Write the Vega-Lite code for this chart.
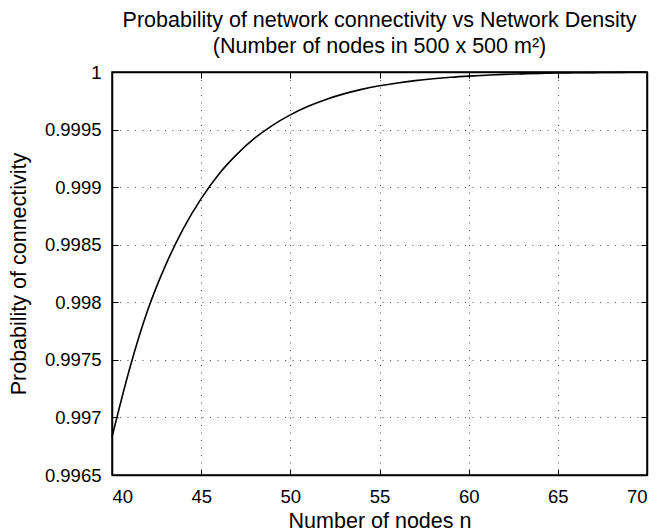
{
  "$schema": "https://vega.github.io/schema/vega-lite/v6.json",
  "autosize": "none",
  "width": 535,
  "height": 403,
  "padding": {"left": 112, "top": 72, "right": 25, "bottom": 57},
  "background": "white",
  "title": {
    "text": ["Probability of network connectivity vs Network Density", "(Number of nodes in 500 x 500 m²)"],
    "font": "Liberation Sans",
    "fontSize": 21.5,
    "fontWeight": "normal",
    "color": "black",
    "anchor": "middle",
    "frame": "group",
    "lineHeight": 26,
    "offset": 6
  },
  "config": {
    "view": {"stroke": "black", "strokeWidth": 1.5},
    "axis": {
      "labelFont": "Liberation Sans",
      "labelFontSize": 18.5,
      "labelColor": "black",
      "titleFont": "Liberation Sans",
      "titleFontSize": 21.5,
      "titleFontWeight": "normal",
      "titleColor": "black",
      "domainColor": "black",
      "domainWidth": 1.5,
      "tickColor": "black",
      "tickWidth": 1,
      "gridColor": "black",
      "gridOpacity": 0.7,
      "gridDash": [1, 6.5],
      "gridWidth": 1
    }
  },
  "data": {
    "values": [
      {"n": 40, "p": 0.99683},
      {"n": 41, "p": 0.99743},
      {"n": 42, "p": 0.99793},
      {"n": 43, "p": 0.99832},
      {"n": 44, "p": 0.99864},
      {"n": 45, "p": 0.9989},
      {"n": 46, "p": 0.999115},
      {"n": 47, "p": 0.999285},
      {"n": 48, "p": 0.999425},
      {"n": 49, "p": 0.999537},
      {"n": 50, "p": 0.999628},
      {"n": 51, "p": 0.999702},
      {"n": 52, "p": 0.999762},
      {"n": 53, "p": 0.99981},
      {"n": 54, "p": 0.999849},
      {"n": 55, "p": 0.99988},
      {"n": 56, "p": 0.999905},
      {"n": 57, "p": 0.999925},
      {"n": 58, "p": 0.999941},
      {"n": 59, "p": 0.999954},
      {"n": 60, "p": 0.999964},
      {"n": 61, "p": 0.999972},
      {"n": 62, "p": 0.999979},
      {"n": 63, "p": 0.999984},
      {"n": 64, "p": 0.999988},
      {"n": 65, "p": 0.999991},
      {"n": 66, "p": 0.9999932},
      {"n": 67, "p": 0.999995},
      {"n": 68, "p": 0.9999963},
      {"n": 69, "p": 0.9999973},
      {"n": 70, "p": 0.999998}
    ]
  },
  "layer": [
    {
      "mark": {"type": "line", "color": "black", "strokeWidth": 1.6, "interpolate": "monotone"},
      "encoding": {
        "x": {
          "field": "n", "type": "quantitative",
          "scale": {"domain": [40, 70], "nice": false, "zero": false},
          "axis": {
            "title": "Number of nodes n",
            "values": [40, 45, 50, 55, 60, 65, 70],
            "tickSize": -6,
            "labelPadding": 18,
            "titlePadding": 5,
            "grid": true
          }
        },
        "y": {
          "field": "p", "type": "quantitative",
          "scale": {"domain": [0.9965, 1], "nice": false, "zero": false},
          "axis": {
            "title": "Probability of connectivity",
            "values": [0.9965, 0.997, 0.9975, 0.998, 0.9985, 0.999, 0.9995, 1],
            "format": ".4~f",
            "tickSize": -6,
            "labelPadding": 17,
            "titlePadding": 14,
            "grid": true
          }
        }
      }
    },
    {
      "mark": {"type": "line", "opacity": 0},
      "encoding": {
        "x": {
          "field": "n", "type": "quantitative",
          "axis": {
            "orient": "top", "title": null, "labels": false, "grid": false,
            "values": [40, 45, 50, 55, 60, 65, 70], "tickSize": -6
          }
        },
        "y": {
          "field": "p", "type": "quantitative",
          "axis": {
            "orient": "right", "title": null, "labels": false, "grid": false,
            "values": [0.9965, 0.997, 0.9975, 0.998, 0.9985, 0.999, 0.9995, 1], "tickSize": -6
          }
        }
      }
    }
  ],
  "resolve": {"axis": {"x": "independent", "y": "independent"}}
}
